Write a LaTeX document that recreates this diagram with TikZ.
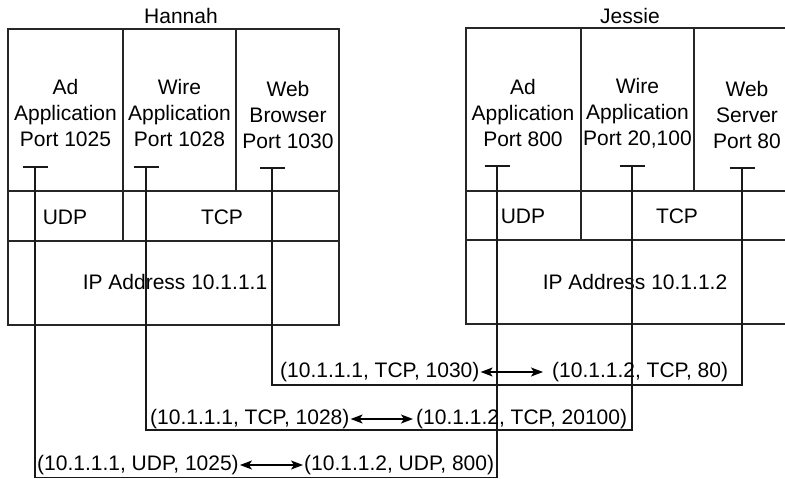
\documentclass[tikz,border=0pt]{standalone}
\usepackage{fontspec}
\setmainfont{Liberation Sans}
\usetikzlibrary{arrows.meta}
\begin{document}
\begin{tikzpicture}[x=1pt,y=-1pt,
 lbl/.style={inner sep=0pt, align=center, font=\fontsize{21}{26}\selectfont},
 addr/.style={inner sep=1pt, anchor=west, font=\fontsize{21}{26}\selectfont},
 frame/.style={line width=1.2pt, draw=black!85},
 wire/.style={line width=1.5pt, draw=black!90},
 tick/.style={line width=1.2pt, draw=black!90},
 dbl/.style={{Stealth[length=12pt,width=9pt,inset=3pt]}-{Stealth[length=12pt,width=9pt,inset=3pt]}, line width=1.2pt}]
\useasboundingbox (0,0) rectangle (785,479);
\clip (0,0) rectangle (785,479);
% Hannah frame
\draw[frame] (8,29) rectangle (339,325);
\draw[frame] (8,191) -- (339,191);
\draw[frame] (8,241) -- (339,241);
\draw[frame] (123,29) -- (123,241);
\draw[frame] (236,29) -- (236,191);
% Jessie frame
\draw[frame] (466,28) rectangle (806,324);
\draw[frame] (466,191) -- (806,191);
\draw[frame] (466,240) -- (806,240);
\draw[frame] (581,28) -- (581,240);
\draw[frame] (694,28) -- (694,191);
% titles
\node[lbl] (hname) at (181,16) {Hannah};
\node[lbl] (jname) at (630,16) {Jessie};
% app cells
\node[lbl] (hAd) at (65.5,113) {Ad\\Application\\Port 1025};
\node[lbl] (hWire) at (179.5,113) {Wire\\Application\\Port 1028};
\node[lbl] (hWeb) at (288,115) {Web\\Browser\\Port 1030};
\node[lbl] (jAd) at (523,113) {Ad\\Application\\Port 800};
\node[lbl] (jWire) at (637.5,113) {Wire\\Application\\Port 20,100};
\node[lbl] (jWeb) at (747,115) {Web\\Server\\Port 80};
% transport
\node[lbl] (hUDP) at (65,217) {UDP};
\node[lbl] (hTCP) at (222,217) {TCP};
\node[lbl] (jUDP) at (523,216) {UDP};
\node[lbl] (jTCP) at (677,216) {TCP};
% IP
\node[lbl] (hIP) at (175,282) {IP Address 10.1.1.1};
\node[lbl] (jIP) at (635,282) {IP Address 10.1.1.2};
% port ticks
\coordinate (hA) at (35,167);
\coordinate (hW) at (146,167);
\coordinate (hB) at (272,168);
\coordinate (jA) at (497,166);
\coordinate (jW) at (632,166);
\coordinate (jS) at (742,168);
\foreach \p in {hA,hW,hB,jA,jW,jS}
  \draw[tick] ([xshift=-12.5pt]\p) -- ([xshift=12.5pt]\p);
% rows
\coordinate (r1) at (0,385);
\coordinate (r2) at (0,430);
\coordinate (r3) at (0,477.5);
\draw[wire] (hB) -- (hB |- r1) -| (jS);
\draw[wire] (hW) -- (hW |- r2) -| (jW);
\draw[wire] (hA) -- (hA |- r3) -| (jA);
% address labels
\node[addr] (l1a) at (279,372) {(10.1.1.1, TCP, 1030)};
\node[addr] (l1b) at (551,372) {(10.1.1.2, TCP, 80)};
\draw[dbl, shorten >=8pt] (l1a.east) -- (l1b.west);
\node[addr] (l2a) at (149,419) {(10.1.1.1, TCP, 1028)};
\node[addr] (l2b) at (415,419) {(10.1.1.2, TCP, 20100)};
\draw[dbl, shorten >=2pt] (l2a.east) -- (l2b.west);
\node[addr] (l3a) at (36,465) {(10.1.1.1, UDP, 1025)};
\node[addr] (l3b) at (303,465) {(10.1.1.2, UDP, 800)};
\draw[dbl] (l3a.east) -- (l3b.west);
\end{tikzpicture}
\end{document}
